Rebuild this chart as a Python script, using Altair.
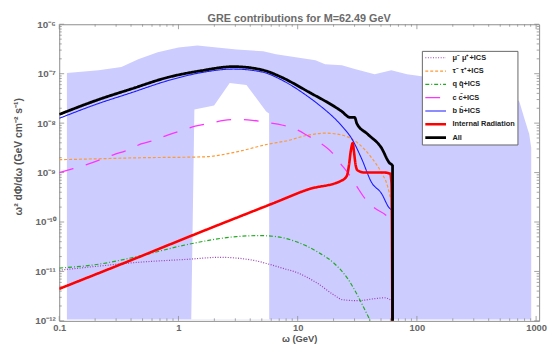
import altair as alt
import pandas as pd

FONT = "Liberation Sans"
FRAME = "#8c8c8c"
TEXT = "#666666"

title_text = "GRE contributions for M=62.49 GeV"
x_title = "ω  (GeV)"
y_title = "ω² dΦ/dω  (GeV cm⁻² s⁻¹)"

series_names = ["μ⁻ μ⁺+ICS", "τ⁻ τ⁺+ICS", "q q̄+ICS", "c c̄+ICS", "b b̄+ICS",
                "Internal Radiation", "All"]
series_colors = ["#9b3fb5", "#ff9933", "#22aa22", "#ff33ff", "#1a1aff", "#ff0000", "#000000"]
series_dashes = [[1, 1.6], [3, 2], [4, 2, 1, 2], [15, 13], [1, 0], [1, 0], [1, 0]]
series_widths = [1.2, 1.2, 1.2, 1.3, 1.1, 2.6, 2.8]

# mu mu + ICS
mumu_x = [0.1, 0.214, 0.46, 1.19, 2.22, 4.25, 5.76, 7.96, 9.62, 14.1, 20.6, 23.5, 31.9, 44.2, 53.4, 59.8]
mumu_y = [1.06e-11, 1.28e-11, 1.53e-11, 1.76e-11, 1.93e-11, 1.68e-11, 1.40e-11, 1.11e-11, 9.7e-12,
          6.1e-12, 3.23e-12, 2.69e-12, 2.56e-12, 2.81e-12, 2.94e-12, 2.69e-12]
# tau tau + ICS
tautau_x = [0.1, 0.214, 0.46, 1.64, 3.07, 5.76, 7.96, 12.3, 17.0, 23.5, 31.9, 41.7, 50.4, 56.5, 59.8]
tautau_y = [1.82e-9, 1.90e-9, 1.99e-9, 2.08e-9, 2.62e-9, 3.79e-9, 4.35e-9, 5.73e-9, 6.27e-9, 5.73e-9,
            3.96e-9, 1.99e-9, 1.0e-9, 5.5e-10, 3.18e-10]
# q qbar + ICS
qq_x = [0.1, 0.214, 0.46, 1.19, 3.07, 4.76, 6.58, 9.62, 14.9, 20.6, 26.4, 31.9, 37.9, 40.9, 44.2]
qq_y = [1.17e-11, 1.40e-11, 2.02e-11, 3.51e-11, 5.07e-11, 5.31e-11, 5.07e-11, 4.03e-11, 2.43e-11,
        1.40e-11, 7.05e-12, 3.23e-12, 1.41e-12, 9.8e-13, 6.8e-13]
# c cbar + ICS
cc_x = [0.1, 0.1306, 0.170, 0.285, 0.379, 0.485, 0.634, 0.811, 1.08, 1.38, 1.84, 2.40, 3.19, 4.17,
        5.44, 7.52, 9.62, 12.3, 15.5, 19.5, 22.6, 27.4, 31.3, 36.5, 44.2, 56.5, 59.8]
cc_y = [1.0e-9, 1.20e-9, 1.45e-9, 2.29e-9, 2.88e-9, 3.79e-9, 4.55e-9, 5.73e-9, 7.2e-9, 8.65e-9,
        9.93e-9, 1.14e-8, 1.19e-8, 1.14e-8, 1.04e-8, 9.06e-9, 7.53e-9, 5.47e-9, 3.96e-9, 2.51e-9,
        1.58e-9, 8.7e-10, 5.26e-10, 3.03e-10, 1.92e-10, 1.27e-10, 1.05e-10]
# b bbar + ICS
bb_x = [0.1, 0.214, 0.40, 0.81, 1.55, 2.9, 5.14, 7.0, 12.3, 14.9, 23.5, 28.5, 34.4, 41.7, 50.4, 58.7, 61.5]
bb_y = [1.25e-8, 2.5e-8, 4.1e-8, 7.2e-8, 1.05e-7, 1.24e-7, 1.07e-7, 7.9e-8, 3.4e-8, 2.4e-8,
        8.7e-9, 4.8e-9, 1.9e-9, 6.3e-10, 3.8e-10, 1.92e-10, 1.75e-10]
# internal radiation
ir_x = [0.1, 0.46, 1.19, 6.58, 12.3, 23.5, 25.9, 26.9, 27.9, 29.0, 29.6, 30.7, 31.9, 36.5, 53.4,
        59.8, 61.2, 62.49]
ir_y = [4.45e-12, 1.93e-11, 4.9e-11, 2.52e-10, 4.58e-10, 6.93e-10, 8.7e-10, 1.38e-9, 2.75e-9,
        3.96e-9, 2.75e-9, 1.38e-9, 1.1e-9, 1.0e-9, 1.0e-9, 9.5e-10, 6.0e-10, 1e-13]
# all
all_x = [0.1, 0.214, 0.40, 0.81, 1.55, 2.9, 5.14, 7.0, 12.3, 23.5, 27.4, 30.1, 31.3, 38.6, 50.4,
         58.7, 62.49, 62.5]
all_y = [1.5e-8, 3.0e-8, 4.9e-8, 8.4e-8, 1.15e-7, 1.39e-7, 1.18e-7, 8.9e-8, 4.3e-8, 1.72e-8,
         1.31e-8, 1.31e-8, 9.9e-9, 6.0e-9, 3.16e-9, 1.58e-9, 1.38e-9, 1e-13]

# shaded band (upper edge) and its white gap
band_x = [0.116, 0.214, 0.332, 0.46, 0.67, 1.0, 1.44, 2.1, 3.07, 5.14, 6.58, 14.1, 17.0, 23.5, 30.1,
          44.2, 61, 82.7, 244, 670, 724, 796, 875, 910]
band_top = [1.03e-7, 1.18e-7, 1.36e-7, 1.96e-7, 2.70e-7, 3.40e-7, 3.73e-7, 3.40e-7, 3.10e-7, 2.83e-7,
            2.47e-7, 1.87e-7, 1.56e-7, 1.49e-7, 1.24e-7, 9.8e-8, 1.18e-7, 9.8e-8, 6.8e-8, 3.43e-8,
            2.72e-8, 1.25e-8, 6.0e-9, 3.16e-9]
band_floor = 1.07e-12
hole_x = [1.28, 1.36, 1.99, 2.69, 3.72, 5.44, 5.76, 5.77]
hole_top = [1.07e-12, 1.89e-8, 2.27e-8, 6.5e-8, 5.94e-8, 1.72e-8, 1.57e-8, 1.07e-12]

x_major = [0.1, 1, 10, 100, 1000]
x_labels = ["0.1", "1", "10", "100", "1000"]
y_major = [1e-12, 1e-11, 1e-10, 1e-9, 1e-8, 1e-7, 1e-6]
y_labels = ["10⁻¹²", "10⁻¹¹", "10⁻¹⁰", "10⁻⁹", "10⁻⁸", "10⁻⁷", "10⁻⁶"]
x_minor = [m * 10.0 ** e for e in range(-1, 3) for m in range(2, 10)]
y_minor = [m * 10.0 ** e for e in range(-12, -6) for m in range(2, 10)]

W, H = 487, 301
xs = alt.Scale(type="log", domain=[0.1, 1060], nice=False)
ys = alt.Scale(type="log", domain=[1e-12, 1e-6], nice=False)


def label_expr(values, labels):
    expr = ""
    for v, lab in zip(values[:-1], labels[:-1]):
        expr += f"datum.value < {v * 3.1623:g} ? '{lab}' : "
    return expr + f"'{labels[-1]}'"


series_data = [mumu_x, tautau_x, qq_x, cc_x, bb_x, ir_x, all_x]
series_vals = [mumu_y, tautau_y, qq_y, cc_y, bb_y, ir_y, all_y]
rows = []
for name, xv, yv in zip(series_names, series_data, series_vals):
    for i, (a, b) in enumerate(zip(xv, yv)):
        rows.append({"series": name, "x": a, "y": b, "i": i})
lines_df = pd.DataFrame(rows)

band_df = pd.DataFrame({"x": band_x, "top": band_top, "bottom": [band_floor] * len(band_x)})
hole_df = pd.DataFrame({"x": hole_x, "top": hole_top, "bottom": [band_floor] * len(hole_x)})

x_axis = alt.Axis(values=x_major, labelExpr=label_expr(x_major, x_labels), ticks=False, tickSize=0,
                  domain=False, grid=False, labelFont=FONT, labelFontSize=9.5, labelFontWeight="bold",
                  labelColor=TEXT, labelPadding=2, labelFlush=False, title=x_title, titleFont=FONT,
                  titleFontSize=9.5, titleFontWeight="bold", titleColor="#555555",
                  titleY=21, titleBaseline="alphabetic")
y_axis = alt.Axis(values=y_major, labelExpr=label_expr(y_major, y_labels), ticks=False, tickSize=0,
                  domain=False, grid=False, labelFont=FONT, labelFontSize=10, labelFontWeight="bold",
                  labelColor=TEXT, labelPadding=4, labelFlush=False, title=y_title, titleFont=FONT,
                  titleFontSize=10.5, titleFontWeight="bold", titleColor="#555555", titleX=-36,
                  titleY=134)


def X(field):
    return alt.X(field, scale=xs, axis=x_axis)


def Y(field):
    return alt.Y(field, scale=ys, axis=y_axis)


band = alt.Chart(band_df).mark_area(color="#ccccff", opacity=1, clip=True).encode(
    x=X("x:Q"), y=Y("top:Q"), y2="bottom:Q")
hole = alt.Chart(hole_df).mark_area(color="#ffffff", opacity=1, clip=True).encode(
    x=X("x:Q"), y=Y("top:Q"), y2="bottom:Q")

legend = alt.Legend(title=None, orient="none", legendX=368, legendY=27, fillColor="#ffffff",
                    strokeColor="#666666", padding=2, symbolType="stroke", symbolSize=441,
                    clipHeight=10, rowPadding=3.5, labelFont=FONT, labelFontSize=7.5,
                    labelFontWeight="bold", labelColor="#222222", labelOffset=5, labelLimit=200)

draw_order = [0, 2, 1, 3, 4, 5, 6]
line_layers = []
for k in draw_order:
    name = series_names[k]
    line_layers.append(
        alt.Chart(lines_df).transform_filter(alt.datum.series == name)
        .mark_line(clip=True, interpolate="monotone").encode(
            x=X("x:Q"), y=Y("y:Q"),
            order="i:Q",
            color=alt.Color("series:N", scale=alt.Scale(domain=series_names, range=series_colors),
                            legend=legend),
            strokeDash=alt.StrokeDash("series:N",
                                      scale=alt.Scale(type="ordinal", domain=series_names,
                                                      range=series_dashes),
                                      legend=legend),
            strokeWidth=alt.StrokeWidth("series:N",
                                        scale=alt.Scale(type="ordinal", domain=series_names,
                                                        range=series_widths),
                                        legend=legend),
        )
    )

tick_layers = []
for vals, length in [(x_major, 5), (x_minor, 2.5)]:
    d = pd.DataFrame({"v": vals})
    for y0, y1 in [(H, H - length), (0, length)]:
        tick_layers.append(alt.Chart(d).mark_rule(color=FRAME, strokeWidth=0.8).encode(
            x=X("v:Q"), y=alt.value(y0), y2=alt.value(y1)))
for vals, length in [(y_major, 5), (y_minor, 2.5)]:
    d = pd.DataFrame({"v": vals})
    for x0, x1 in [(0, length), (W, W - length)]:
        tick_layers.append(alt.Chart(d).mark_rule(color=FRAME, strokeWidth=0.8).encode(
            y=Y("v:Q"), x=alt.value(x0), x2=alt.value(x1)))

chart = alt.layer(band, hole, *tick_layers, *line_layers).properties(
    width=W, height=H,
    title=alt.TitleParams(title_text, font=FONT, fontSize=11, fontWeight="bold", color="#6b6b6b",
                          offset=3, dy=8, anchor="middle", frame="group"),
    autosize=alt.AutoSizeParams(type="none"),
    padding={"left": 52, "top": 14, "right": 9, "bottom": 23},
).configure_view(stroke=FRAME, strokeWidth=1)

chart.save("out.html", embed_options={"renderer": "svg", "actions": False})
